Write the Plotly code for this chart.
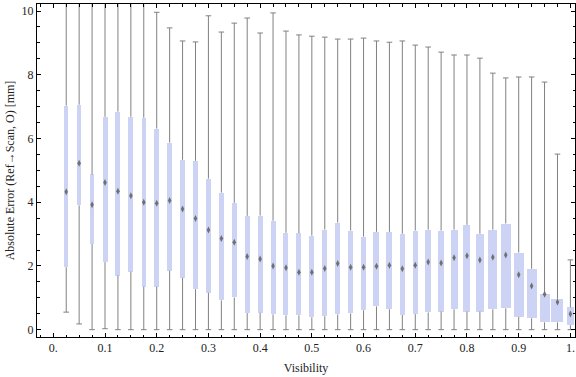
import plotly.graph_objects as go

visibility = [round(0.025 * k, 3) for k in range(1, 41)]
q1 = [1.96, 3.90, 2.69, 2.12, 1.70, 1.82, 1.35, 1.35, 1.85, 1.63,
      1.27, 1.16, 0.92, 1.01, 0.52, 0.53, 0.48, 0.45, 0.45, 0.39,
      0.42, 0.48, 0.51, 0.61, 0.73, 0.64, 0.46, 0.49, 0.54, 0.57,
      0.64, 0.57, 0.57, 0.64, 0.67, 0.40, 0.36, 0.23, 0.23, 0.14]
median = [4.33, 5.22, 3.92, 4.62, 4.34, 4.20, 4.00, 3.97, 4.05, 3.79,
          3.49, 3.13, 2.86, 2.74, 2.30, 2.22, 2.00, 1.94, 1.80, 1.80,
          1.92, 2.08, 1.96, 1.96, 1.99, 2.02, 1.91, 2.02, 2.12, 2.09,
          2.26, 2.32, 2.19, 2.27, 2.34, 1.72, 1.37, 1.11, 0.87, 0.49]
q3 = [7.03, 7.06, 4.87, 6.68, 6.84, 6.68, 6.65, 6.31, 5.87, 5.33,
      5.30, 4.74, 4.30, 3.98, 3.57, 3.58, 3.42, 3.04, 3.03, 2.95,
      3.14, 3.36, 3.11, 2.92, 3.07, 3.07, 3.01, 3.11, 3.14, 3.11,
      3.14, 3.29, 3.01, 3.14, 3.33, 2.42, 1.91, 1.11, 0.97, 0.70]
whisker_min = [0.55, 0.18, 0.0, 0.03, 0.0, 0.0, 0.0, 0.0, 0.0, 0.0,
               0.0, 0.0, 0.0, 0.0, 0.0, 0.0, 0.0, 0.0, 0.0, 0.0,
               0.0, 0.0, 0.0, 0.0, 0.0, 0.0, 0.0, 0.0, 0.0, 0.0,
               0.0, 0.0, 0.0, 0.0, 0.0, 0.0, 0.0, 0.0, 0.0, 0.0]
whisker_max = [11.5, 11.5, 11.5, 11.5, 11.5, 11.5, 11.5, 9.96, 9.47, 9.06,
               9.03, 9.85, 9.34, 9.62, 9.78, 9.31, 9.94, 9.37, 9.25, 9.21,
               9.18, 9.12, 9.12, 9.15, 9.06, 9.02, 9.06, 8.93, 8.87, 8.71,
               8.62, 8.62, 8.52, 8.05, 7.90, 7.93, 7.93, 7.77, 5.51, 2.19]
box_px = [4, 4.3, 3.3, 5, 5, 5, 4, 5, 5, 5,
          5, 4.5, 5, 5, 5, 5, 5, 5, 5, 5,
          5, 5, 5, 5, 6, 6, 5, 5, 6, 6,
          7, 7, 7.3, 9, 9.7, 10, 10, 10, 12, 7]

x_tickvals = [0, 0.1, 0.2, 0.3, 0.4, 0.5, 0.6, 0.7, 0.8, 0.9, 1.0]
x_ticktext = ["0.", "0.1", "0.2", "0.3", "0.4", "0.5", "0.6", "0.7", "0.8", "0.9", "1."]
y_tickvals = [0, 2, 4, 6, 8, 10]

PX_PER_UNIT = 517.4
box_widths = [p / PX_PER_UNIT for p in box_px]

# whisker segments (below and above the box)
wx, wy = [], []
for x, lo, a, b, hi in zip(visibility, whisker_min, q1, q3, whisker_max):
    wx += [x, x, None, x, x, None]
    wy += [lo, a, None, b, hi, None]

cap_x = visibility + visibility
cap_y = whisker_min + whisker_max

fig = go.Figure()
fig.add_trace(go.Bar(
    x=visibility, y=[b - a for a, b in zip(q1, q3)], base=q1, width=box_widths,
    marker=dict(color="#CCD3F5", line=dict(width=0)), hoverinfo="skip",
))
fig.add_trace(go.Scatter(
    x=wx, y=wy, mode="lines", line=dict(color="#808080", width=1), hoverinfo="skip",
))
fig.add_trace(go.Scatter(
    x=cap_x, y=cap_y, mode="markers",
    marker=dict(symbol="line-ew", size=4, line=dict(color="#808080", width=1)),
    hoverinfo="skip",
))
fig.add_trace(go.Scatter(
    x=visibility, y=median, mode="markers",
    marker=dict(symbol="diamond-tall", size=5, color="#707070", line=dict(width=0)),
))

font = "Liberation Serif"
axis_common = dict(
    showline=True, linecolor="black", linewidth=1, mirror="allticks",
    ticks="inside", tickcolor="black", ticklen=4, tickwidth=1,
    showgrid=False, zeroline=False, automargin=False,
    tickfont=dict(family=font, size=12, color="#222"),
)
fig.update_xaxes(
    range=[-0.0315, 1.0089], tickmode="array", tickvals=x_tickvals, ticktext=x_ticktext,
    minor=dict(tickmode="linear", tick0=0, dtick=0.025, ticks="inside", ticklen=2.5,
               tickcolor="black", showgrid=False),
    title=dict(text="Visibility", font=dict(family=font, size=12, color="#222"), standoff=9),
    **axis_common,
)
fig.update_yaxes(
    range=[-0.23, 10.22], tickmode="array", tickvals=y_tickvals,
    minor=dict(tickmode="linear", tick0=0, dtick=0.5, ticks="inside", ticklen=2.5,
               tickcolor="black", showgrid=False),
    title=dict(text="Absolute Error (Ref\u2192Scan, O) [mm]",
               font=dict(family=font, size=12, color="#222"), standoff=4),
    **axis_common,
)
fig.update_layout(
    width=576, height=377, margin=dict(l=37, r=1, t=4, b=40, autoexpand=False),
    plot_bgcolor="white", paper_bgcolor="white", showlegend=False,
    barmode="overlay", bargap=0,
    font=dict(family=font),
)
fig.write_html("out.html", config={"displayModeBar": False},
               post_script="document.body.style.margin='0';document.body.style.overflow='hidden';")
